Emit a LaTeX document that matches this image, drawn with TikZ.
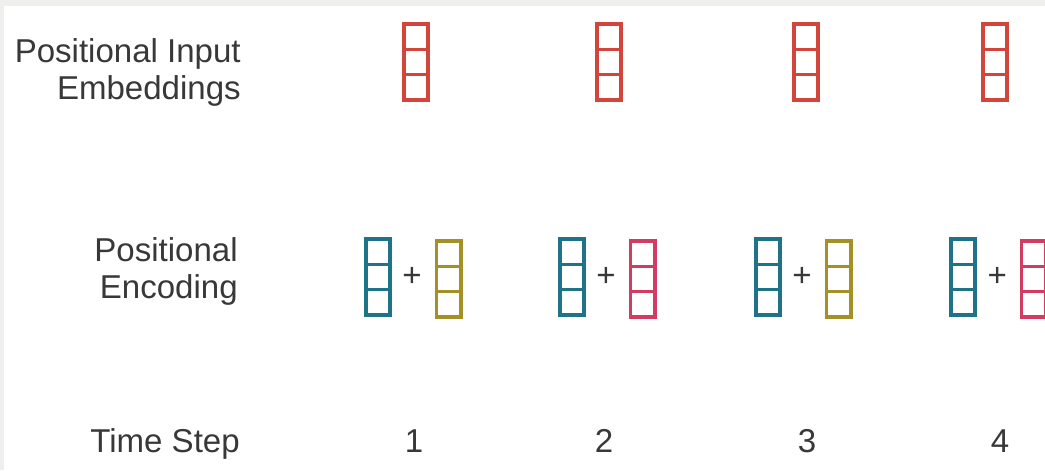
\documentclass[tikz,border=0pt]{standalone}
\usepackage{fontspec}
\setmainfont{Liberation Sans}
\usepackage{tikz}
\usetikzlibrary{positioning}
\definecolor{FrameGrey}{HTML}{EFEFED}
\definecolor{LabelGrey}{HTML}{383838}
\definecolor{EmbRed}{HTML}{D2453B}
\definecolor{PosBlue}{HTML}{1E7389}
\definecolor{SinOlive}{HTML}{A39026}
\definecolor{CosPink}{HTML}{D23C63}

\begin{document}
\begin{tikzpicture}[x=0.025cm,y=-0.025cm,font=\fontsize{23.5}{26.3}\selectfont]
\tikzstyle{cell}=[draw,line width=2.5pt,inner sep=0pt,outer sep=0pt,minimum width=0.61cm,minimum height=0.63cm]
\tikzstyle{lbl}=[align=right,anchor=east,inner sep=0pt,text=LabelGrey]
\tikzstyle{plussign}=[inner sep=0pt,text=LabelGrey]
\tikzstyle{stepnum}=[anchor=base,inner sep=0pt,text=LabelGrey]
% background with the light frame
\fill[FrameGrey] (0,0) rectangle (1045,470);
\fill[white] (4,6) rectangle (1045,470);
\useasboundingbox (0,0) rectangle (1045,470);
% row labels
\node[lbl] (embLabel) at (241,72) {Positional Input\\Embeddings};
\node[lbl] (posLabel) at (238,271) {Positional\\Encoding};
\node[lbl,anchor=base east] (stepLabel) at (240,452) {Time Step};
% input embeddings, three cells each
\foreach \x [count=\i] in {416,609,806,995}{
  \node[cell,draw=EmbRed] (emb\i) at (\x,62) {};
  \node[cell,draw=EmbRed,above=0pt of emb\i] (embT\i) {};
  \node[cell,draw=EmbRed,below=0pt of emb\i] (embB\i) {};
}
% positional encodings: word vector + position vector
\foreach \x/\c [count=\i] in {378/SinOlive,572/CosPink,768/SinOlive,963/CosPink}{
  \node[cell,draw=PosBlue] (pe\i) at (\x,277) {};
  \node[cell,draw=PosBlue,above=0pt of pe\i] (peT\i) {};
  \node[cell,draw=PosBlue,below=0pt of pe\i] (peB\i) {};
  \node[plussign,right=0.3cm of pe\i] (plus\i) {+};
  \node[cell,draw=\c,right=0.36cm of plus\i,yshift=-0.05cm] (enc\i) {};
  \node[cell,draw=\c,above=0pt of enc\i] (encT\i) {};
  \node[cell,draw=\c,below=0pt of enc\i] (encB\i) {};
}
% time steps
\foreach \x [count=\i] in {414,604,807,1000}
  \node[stepnum] (t\i) at (\x,452) {\i};
\end{tikzpicture}
\end{document}
